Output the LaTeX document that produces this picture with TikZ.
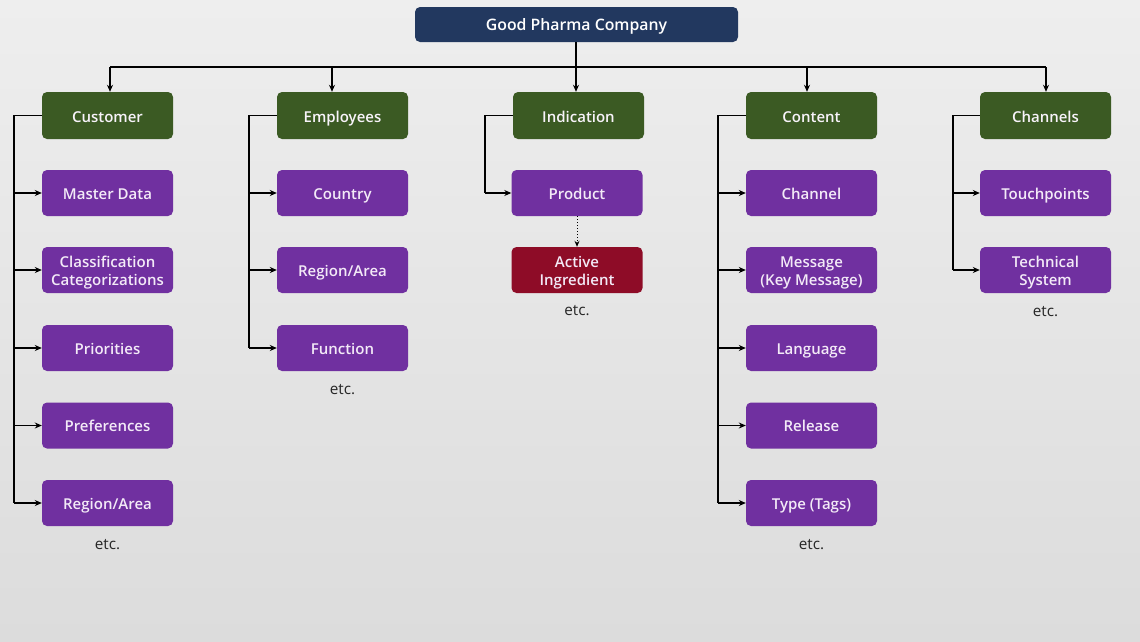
\documentclass[tikz,border=0pt]{standalone}
\usepackage{fontspec}
\setmainfont{Open Sans}
\IfFontExistsTF{Open Sans SemiBold}{\newfontfamily\semib{Open Sans SemiBold}}{%
  \IfFontExistsTF{Open Sans Semibold}{\newfontfamily\semib{Open Sans Semibold}}{%
    \newfontfamily\semib{Open Sans Bold}}}
\usetikzlibrary{arrows.meta}
\definecolor{navy}{HTML}{22385F}
\definecolor{grn}{HTML}{3B5A23}
\definecolor{purp}{HTML}{7030A0}
\definecolor{redb}{HTML}{8E0C27}
\definecolor{bgtop}{HTML}{EEEEEE}
\definecolor{bgbot}{HTML}{DCDCDC}
\definecolor{ptext}{HTML}{F3EAF7}
\tikzset{
  base/.style={rounded corners=5pt, inner sep=2pt, align=center, font=\fontsize{15}{18}\selectfont\semib, text=white, text height=13pt, text depth=1pt},
  twoline/.style={text height=31pt, text depth=0pt},
  topbox/.style={base, fill=navy, minimum width=323pt, minimum height=35pt, font=\fontsize{15.8}{18}\selectfont\semib},
  catbox/.style={base, fill=grn, minimum width=131pt, minimum height=47pt, text=ptext!60!white, text height=14pt, text depth=0pt},
  itembox/.style={base, fill=purp, minimum width=131pt, minimum height=46pt, text=ptext},
  redbox/.style={base, fill=redb, minimum width=131pt, minimum height=46pt, text=ptext},
  etc/.style={font=\fontsize{15.3}{18}\selectfont, text=black!85},
  conn/.style={line width=1.3pt, black},
  arr/.style={conn, -{Stealth[length=7pt,width=6pt]}},
}
\begin{document}
\begin{tikzpicture}[x=1pt,y=-1pt]
\shade[top color=bgtop, bottom color=bgbot] (0,0) rectangle (1140,641);
\useasboundingbox (0,0) rectangle (1140,641);

\node[topbox] (top) at (576.5,24.5) {Good Pharma Company};

\node[catbox] (cust) at (107.5,115.5) {Customer};
\node[catbox] (empl) at (342.5,115.5) {Employees};
\node[catbox] (indi) at (578.5,115.5) {Indication};
\node[catbox] (cont) at (811.5,115.5) {Content};
\node[catbox] (chan) at (1045.5,115.5) {Channels};

% bus
\coordinate (busL) at (110,67);
\coordinate (busR) at (1046,67);
\coordinate (busM) at (576,67);
\coordinate (bCust) at (110,67);
\coordinate (bEmpl) at (332,67);
\coordinate (bIndi) at (576,67);
\coordinate (bCont) at (807,67);
\coordinate (bChan) at (1046,67);
\draw[conn] (top.south -| busM) -- (busM);
\draw[conn] (busL) -- (busR);
\draw[arr] (bCust) -- (bCust |- cust.north);
\draw[arr] (bEmpl) -- (bEmpl |- empl.north);
\draw[arr] (bIndi) -- (bIndi |- indi.north);
\draw[arr] (bCont) -- (bCont |- cont.north);
\draw[arr] (bChan) -- (bChan |- chan.north);

% Customer
\node[itembox] (c1) at (107.5,193) {Master Data};
\node[itembox, twoline] (c2) at (107.5,270) {Classification\\Categorizations};
\node[itembox] (c3) at (107.5,348) {Priorities};
\node[itembox] (c4) at (107.5,425.5) {Preferences};
\node[itembox] (c5) at (107.5,503) {Region/Area};
\node[etc] (cetc) at (107.5,545) {etc.};
\coordinate (cL) at (14,115.5);
\draw[conn] (cust.west) -- (cL) -- (cL |- c5);
\foreach \n in {c1,c2,c3,c4,c5} \draw[arr] (cL |- \n) -- (\n.west);

% Employees
\node[itembox] (e1) at (342.5,193) {Country};
\node[itembox] (e2) at (342.5,270) {Region/Area};
\node[itembox] (e3) at (342.5,348) {Function};
\node[etc] (eetc) at (342.5,390) {etc.};
\coordinate (eL) at (249,115.5);
\draw[conn] (empl.west) -- (eL) -- (eL |- e3);
\foreach \n in {e1,e2,e3} \draw[arr] (eL |- \n) -- (\n.west);

% Indication
\node[itembox] (i1) at (577,193) {Product};
\node[redbox, twoline] (i2) at (577,270) {Active\\Ingredient};
\node[etc] (ietc) at (577,311) {etc.};
\coordinate (iL) at (485,115.5);
\draw[conn] (indi.west) -- (iL) -- (iL |- i1);
\draw[arr] (iL |- i1) -- (i1.west);
\draw[conn, line width=1pt, dotted, -{Stealth[length=6pt,width=5pt]}] (i1.south) -- (i2.north);

% Content
\node[itembox] (t1) at (811.5,193) {Channel};
\node[itembox, twoline] (t2) at (811.5,270) {Message\\(Key Message)};
\node[itembox] (t3) at (811.5,348) {Language};
\node[itembox] (t4) at (811.5,425.5) {Release};
\node[itembox] (t5) at (811.5,503) {Type (Tags)};
\node[etc] (tetc) at (811.5,545) {etc.};
\coordinate (tL) at (718,115.5);
\draw[conn] (cont.west) -- (tL) -- (tL |- t5);
\foreach \n in {t1,t2,t3,t4,t5} \draw[arr] (tL |- \n) -- (\n.west);

% Channels
\node[itembox] (h1) at (1045.5,193) {Touchpoints};
\node[itembox, twoline] (h2) at (1045.5,270) {Technical\\System};
\node[etc] (hetc) at (1045.5,312) {etc.};
\coordinate (hL) at (953,115.5);
\draw[conn] (chan.west) -- (hL) -- (hL |- h2);
\foreach \n in {h1,h2} \draw[arr] (hL |- \n) -- (\n.west);
\end{tikzpicture}
\end{document}
